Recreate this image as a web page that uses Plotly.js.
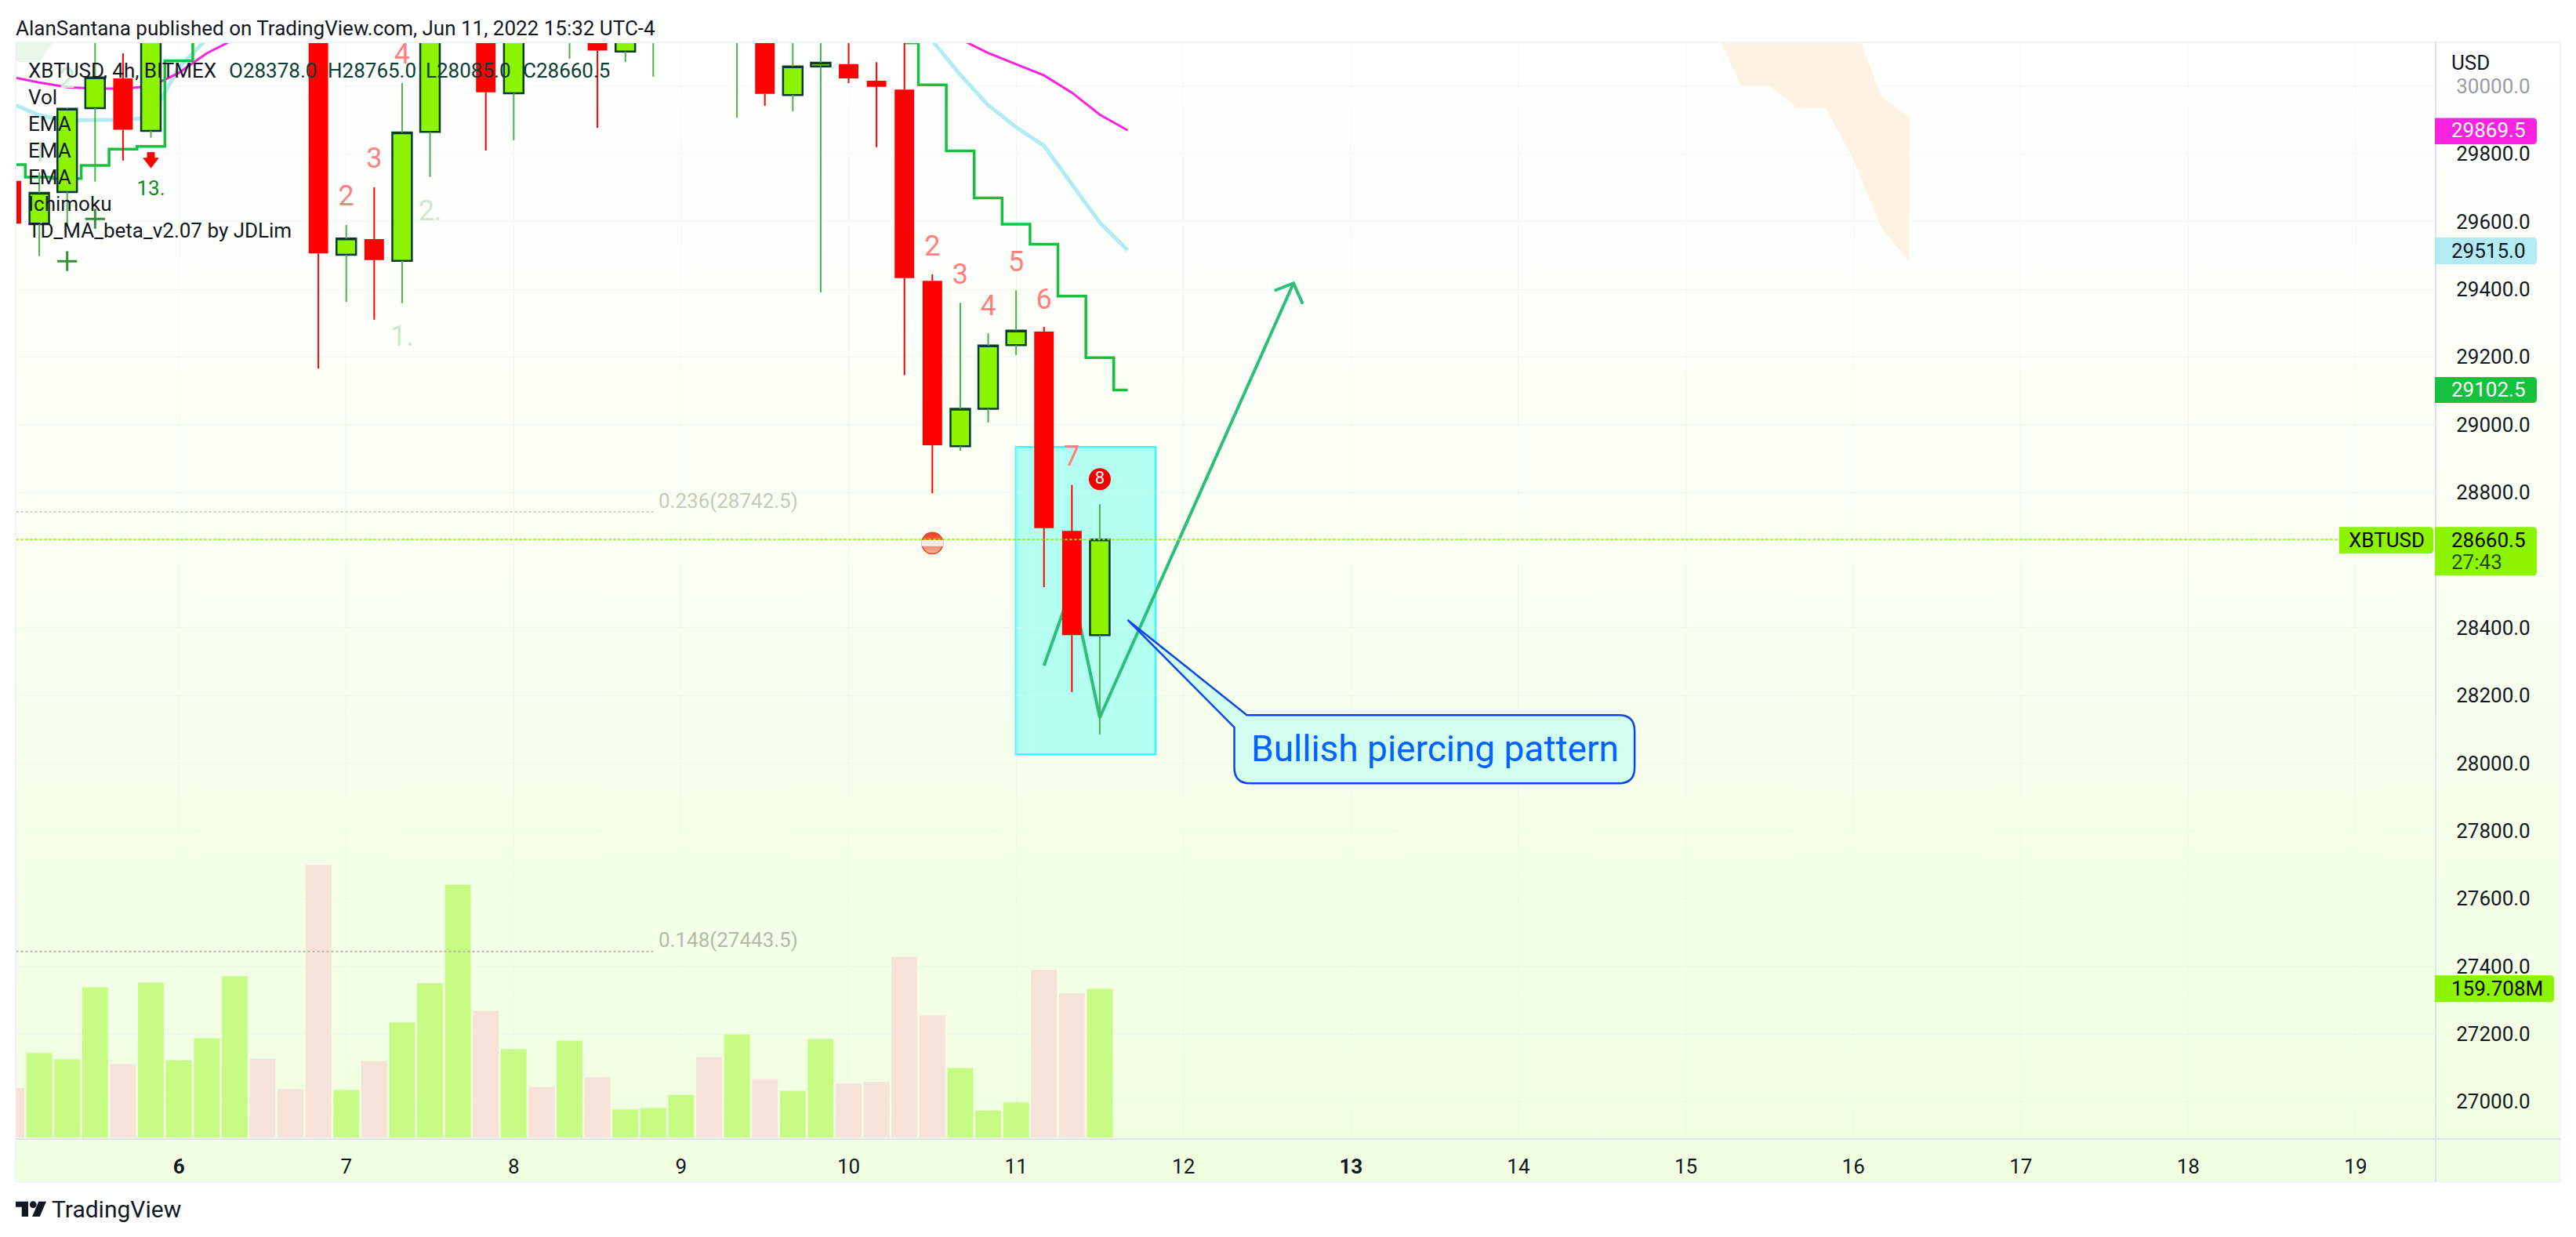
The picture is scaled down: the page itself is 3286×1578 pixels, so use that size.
<!DOCTYPE html>
<html>
<head>
<meta charset="utf-8">
<script src="https://cdn.plot.ly/plotly-3.0.1.min.js"></script>
<style>
  html, body { margin: 0; padding: 0; background: #fff; }
  #bg { position: absolute; left: 20px; top: 54px; width: 3246px; height: 1453px; background: linear-gradient(#ffffff, #f0ffe0); }
  #plot { position: absolute; left: 0; top: 0; width: 3286px; height: 1578px; }
</style>
</head>
<body>
<div id="bg"></div>
<div id="plot"></div>
<script type="text/javascript">
// 4h bars, first one is Jun 5 00:00. bars 6-10, 16, 19, 24, 25 sit above the visible range, their values are guesses
const opens = [29720,29592,29687,29935,30023,29868,30350,30550,30700,31000,30800,30700,29502,29548,29484,29865,30300,30600,29979,30300,30200,30350,30102,30150,30200,30350,30200,30350,29974,30058,30065,30016,29990,29425,28936,29047,29235,29275,28686,28378];
const closes = [29594,29685,29933,30026,29871,30350,30550,30700,31000,30800,30700,29506,29550,29486,29863,30300,30600,29982,30300,30200,30350,30105,30250,30250,30350,30200,30350,29977,30058,30069,30023,29998,29433,28939,29047,29234,29278,28694,28378,28660.5];
const highs = [29760,29745,29937,30180,30097,30400,30620,30800,31150,31100,30850,30750,29590,29701,30009,30400,30700,30650,30400,30400,30450,30400,30300,30300,30400,30400,30400,30400,30180,30250,30200,30071,30135,29444,29360,29270,29397,29289,28822,28765];
const lows = [29560,29498,29590,29718,29780,29848,30300,30500,30650,30700,30650,29166,29363,29310,29359,29732,30200,29810,29840,30150,30081,29877,30071,30028,30150,30150,29907,29942,29926,29391,30009,29820,29146,28797,28923,29006,29206,28520,28210,28085];
const volume = [53.0,90.8,84.0,161.4,78.9,166.5,83.1,106.7,173.3,84.8,51.9,293.0,51.1,82.3,123.7,165.7,271.8,136.2,95.0,54.5,104.1,64.7,30.1,31.8,46.0,86.5,110.9,63.0,50.2,105.8,57.9,59.6,194.3,131.1,74.6,29.2,37.7,180.1,154.9,159.7];

// kijun step line, only the two stretches inside the chart
const kijunLeftIdx = [0,1,2,3,4,5,6,7];
const kijunLeft = [29768,29731,29727,29766,29814,29822,30075,30400];
const kijunRightIdx = [32,33,34,35,36,37,38,39,40];
const kijunRight = [30128,30004,29809,29670,29592,29533,29380,29198,29102.5];

const emaSlowLeftIdx = [0,1,2,3,4,5,6,7,8];
const emaSlowLeft = [30027,30011,29997,29993,29993,30000,30039,30097,30139];
const emaSlowRightIdx = [34,35,36,37,38,39,40];
const emaSlowRight = [30139,30098,30065,30032,29981,29916,29869.5];

const emaFastLeftIdx = [0,1,2,3,4,5,6,7];
const emaFastLeft = [29949,29914,29899,29899,29901,29907,30055,30139];
const emaFastRightIdx = [33,34,35,36,37,38,39,40];
const emaFastRight = [30134,30034,29944,29879,29824,29712,29597,29515];

// ichimoku cloud outlines
const cloudRedIdx = [61,62,63,64,65,66,67,68,68,67,66,61];
const cloudRed = [30172,30000,30000,29936,29936,29784,29581,29485,29907,29969,30192,30500];
const cloudGreenIdx = [0,1,2,2,1,0];
const cloudGreen = [30071,30071,30190,30400,30400,30400];

// TD sequential numbers
const tdRedIdx = [14,13,12,33,34,35,36,37,38];
const tdRed = [30088,29780,29668,29520,29437,29344,29474,29363,28899];
const tdRedText = ['4','3','2','2','3','4','5','6','7'];
const tdGreenIdx = [2,1,15,14];
const tdGreen = [30016,29798,29624,29254];
const tdGreenText = ['2','1','2.','1.'];
const plusIdx = [3,2];
const plusPrice = [29608,29483];

// drawing on top of the chart
const arrowIdx = [37,38,39,45.94,45.26,45.94,46.27];
const arrowPrice = [28288,28520,28135,29418,29396,29418,29357];

const dayTicks = [6,7,8,9,10,11,12,13,14,15,16,17,18,19];
const priceTicks = [30000,29800,29600,29400,29200,29000,28800,28400,28200,28000,27800,27600,27400,27200,27000];

const T0 = Date.UTC(2022, 5, 5);
const H4 = 4 * 3600 * 1000;
const barTime = i => T0 + i * H4;
const idx = volume.map((v, i) => i);
const times = idx.map(barTime);

const RED = '#ff0000', LIME = '#8df400', DARK = '#0b3b2e', INK = '#131722';
const FONT = 'Roboto, sans-serif';

// pixel position on the page -> paper fraction
const L = 20, R = 3107, T = 54, B = 1452.6;
const X = px => (px - L) / (R - L);
const Y = py => (B - py) / (B - T);

const PRICE_RANGE = [26889.7, 30129.5];

// wicks stop at the body, the greens are thinner and lighter than the body border
function wicks(up) {
    const x = [], y = [];
    idx.forEach(i => {
        if ((closes[i] >= opens[i]) !== up) return;
        const top = Math.max(opens[i], closes[i]), bot = Math.min(opens[i], closes[i]);
        x.push(times[i], times[i], null, times[i], times[i], null);
        y.push(highs[i], top, null, bot, lows[i], null);
    });
    return {x, y};
}
const wickUp = wicks(true), wickDown = wicks(false);
const line = (ids, vals, color, width, shape) => ({
    type: 'scatter', mode: 'lines', x: ids.map(barTime), y: vals, yaxis: 'y2',
    line: {color, width, shape: shape || 'linear'}
});
const cloud = (ids, vals, color) => ({
    type: 'scatter', mode: 'lines', x: ids.map(barTime), y: vals, yaxis: 'y2',
    fill: 'toself', fillcolor: color, line: {width: 0}
});
const numbers = (ids, vals, labels, color, size) => ({
    type: 'scatter', mode: 'text', x: ids.map(barTime), y: vals, yaxis: 'y2', text: labels,
    textposition: 'middle center', textfont: {family: FONT, size, color}
});

const traces = [
    {type: 'bar', x: times, y: volume, width: H4 * 0.925,
     marker: {color: idx.map(i => closes[i] >= opens[i] ? '#c8fb84' : '#f6e2d8'), line: {width: 0}}},
    cloud(cloudRedIdx, cloudRed, '#fdf2e3'),
    cloud(cloudGreenIdx, cloudGreen, '#eaf5ea'),
    line(emaFastLeftIdx, emaFastLeft, '#b2ebf2', 5),
    line(emaFastRightIdx, emaFastRight, '#b2ebf2', 5),
    line(emaSlowLeftIdx, emaSlowLeft, '#f723df', 3),
    line(emaSlowRightIdx, emaSlowRight, '#f723df', 3),
    line(kijunLeftIdx, kijunLeft, '#17c140', 3.5, 'hvh'),
    line(kijunRightIdx, kijunRight, '#17c140', 3.5, 'hvh'),
    line(arrowIdx, arrowPrice, '#2dbe7e', 4),
    numbers(tdRedIdx, tdRed, tdRedText, '#ff8080', 36),
    numbers(tdGreenIdx, tdGreen, tdGreenText, '#cde8ce', 36),
    numbers([5], [29694], ['13.'], '#0a8a20', 26),
    {type: 'scatter', mode: 'markers', x: plusIdx.map(barTime), y: plusPrice, yaxis: 'y2',
     marker: {symbol: 'cross-thin', size: 18, line: {width: 3, color: '#388e3c'}}},
    // red arrow of the 13 count: shaft plus head
    {type: 'scatter', mode: 'lines', x: [barTime(5), barTime(5)], y: [29805, 29783], yaxis: 'y2', line: {color: RED, width: 10}},
    {type: 'scatter', mode: 'markers', x: [barTime(5)], y: [29778], yaxis: 'y2',
     marker: {symbol: 'triangle-down', size: 18, color: RED, line: {width: 0}}},
    // candles on their own overlay so they cover the lines
    {type: 'candlestick', x: times, open: opens, close: closes,
     high: idx.map(i => Math.max(opens[i], closes[i])), low: idx.map(i => Math.min(opens[i], closes[i])),
     yaxis: 'y3', whiskerwidth: 0,
     increasing: {fillcolor: LIME, line: {color: DARK, width: 2.5}},
     decreasing: {fillcolor: RED, line: {color: RED, width: 0}}},
    {type: 'scatter', mode: 'lines', x: wickUp.x, y: wickUp.y, yaxis: 'y3', line: {color: '#4caf50', width: 2}},
    {type: 'scatter', mode: 'lines', x: wickDown.x, y: wickDown.y, yaxis: 'y3', line: {color: RED, width: 2}},
    {type: 'scatter', mode: 'markers+text', x: [barTime(39)], y: [28839], yaxis: 'y3', text: ['8'],
     textposition: 'middle center', textfont: {family: FONT, size: 22, color: '#fff'},
     marker: {size: 28, color: '#f00000'}},
    {type: 'scatter', mode: 'markers', x: [barTime(33)], y: [28650], yaxis: 'y3',
     marker: {size: 27, color: '#ee3a1c', gradient: {type: 'vertical', color: '#ffb8a0'}, line: {width: 1.5, color: '#e8452c'}}},
    {type: 'scatter', mode: 'markers', x: [barTime(33)], y: [28650], yaxis: 'y3',
     marker: {symbol: 'line-ew', size: 20, line: {width: 8, color: '#f5ecea'}}}
];

// right side price tags
function tag(x0, y0, x1, y1, color) {
    const r = 5, w = x1 - x0, h = y1 - y0;
    return {type: 'path', xref: 'paper', yref: 'paper', xsizemode: 'pixel', ysizemode: 'pixel',
        xanchor: X(x0), yanchor: Y(y0), layer: 'above', fillcolor: color, line: {width: 0},
        path: `M 0 0 L ${w - r} 0 Q ${w} 0 ${w} ${-r} L ${w} ${-h + r} Q ${w} ${-h} ${w - r} ${-h} L 0 ${-h} Z`};
}
const hline = (x0, x1, price, color) => ({type: 'line', xref: 'x', yref: 'y2', layer: 'above',
    x0, x1, y0: price, y1: price, line: {color, width: 2, dash: '3px,3px'}});
const rule = (x0, y0, x1, y1, color) => ({type: 'line', xref: 'paper', yref: 'paper', layer: 'above',
    x0: X(x0), y0: Y(y0), x1: X(x1), y1: Y(y1), line: {color, width: 2}});

const shapes = [
    {type: 'rect', xref: 'x', yref: 'y2', layer: 'below', x0: barTime(36), x1: barTime(41), y0: 28025.5, y1: 28934,
     fillcolor: '#b3fff0', line: {color: '#33ffff', width: 2.5}},
    hline(T0, barTime(23), 28742.5, '#c9d2bd'),
    hline(T0, barTime(23), 27443.5, '#b2bba8'),
    hline(T0, Date.UTC(2022, 5, 18, 21, 33), 28660.5, LIME),
    // callout
    {type: 'path', xref: 'x', yref: 'y2', xsizemode: 'pixel', ysizemode: 'pixel', layer: 'above',
     xanchor: barTime(40), yanchor: 28423, fillcolor: '#d2ffee', line: {color: '#0b45ef', width: 2.5},
     path: 'M 0 0 L 152 -121.3 L 626.6 -121.3 Q 646.6 -121.3 646.6 -141.3 L 646.6 -188.3 Q 646.6 -208.3 626.6 -208.3 L 156 -208.3 Q 136 -208.3 136 -188.3 L 136 -137 Z'},
    // frame
    rule(20, 54, 3266, 54, '#f0f3fa'), rule(20, 1507, 3266, 1507, '#f0f3fa'),
    rule(20, 54, 20, 1507, '#f0f3fa'), rule(3266, 54, 3266, 1507, '#f0f3fa'),
    rule(3107, 54, 3107, 1507, '#e0e3eb'), rule(20, 1452.6, 3266, 1452.6, '#e0e3eb'),
    tag(3106, 150.5, 3236, 184, '#f723df'),
    tag(3106, 303, 3236, 337, '#b2ebf2'),
    tag(3106, 481, 3236, 514, '#17c140'),
    tag(3106, 672, 3236, 734, LIME),
    tag(2984, 672, 3104, 706, LIME),
    tag(3106, 1244, 3258, 1278, LIME),
    // logo
    {type: 'path', xref: 'paper', yref: 'paper', xsizemode: 'pixel', ysizemode: 'pixel', xanchor: X(20), yanchor: Y(1532.3),
     layer: 'above', fillcolor: INK, line: {width: 0},
     path: 'M 0 0 L 16 0 L 16 -19.4 L 7.7 -19.4 L 7.7 -7 L 0 -7 Z M 29.3 0 L 39 0 L 30.7 -19.4 L 21 -19.4 Z M 17.9 -4 C 17.9 -1.6 19.9 0.4 22.3 0.4 C 24.7 0.4 26.7 -1.6 26.7 -4 C 26.7 -6.4 24.7 -8.4 22.3 -8.4 C 19.9 -8.4 17.9 -6.4 17.9 -4 Z'}
];

function note(text, px, py, size, color, anchor) {
    return {text, xref: 'paper', yref: 'paper', x: X(px), y: Y(py), xanchor: anchor || 'left', yanchor: 'middle',
        showarrow: false, borderpad: 0, borderwidth: 0, font: {family: FONT, size, color}};
}
const GREENTEXT = '#0a3d33';
const annotations = [
    note('AlanSantana published on TradingView.com, Jun 11, 2022 15:32 UTC-4', 20, 36, 26, INK),
    note('XBTUSD, 4h, BITMEX', 36, 90, 26, INK),
    note('O28378.0', 292, 90, 26, GREENTEXT),
    note('H28765.0', 418, 90, 26, GREENTEXT),
    note('L28085.0', 543, 90, 26, GREENTEXT),
    note('C28660.5', 667, 90, 26, GREENTEXT),
    note('Vol', 36, 124, 26, INK),
    note('EMA', 36, 158, 26, INK),
    note('EMA', 36, 192, 26, INK),
    note('EMA', 36, 226, 26, INK),
    note('Ichimoku', 36, 260, 26, INK),
    note('TD_MA_beta_v2.07 by JDLim', 36, 294, 26, INK),
    note('0.236(28742.5)', 840, 639, 26, '#c4cdb8'),
    note('0.148(27443.5)', 840, 1199, 26, '#b2bba8'),
    note('USD', 3127, 80, 26, INK),
    note('29869.5', 3127, 166, 26, '#ffffff'),
    note('29515.0', 3127, 320, 26, INK),
    note('29102.5', 3127, 497, 26, '#ffffff'),
    note('28660.5', 3127, 689, 26, '#000000'),
    note('27:43', 3127, 717, 26, '#2a4a00'),
    note('XBTUSD', 2996, 689, 26, '#000000'),
    note('159.708M', 3127, 1261, 26, '#000000'),
    note('Bullish piercing pattern', 1596, 955, 46, '#0062ff'),
    note('TradingView', 66, 1542, 30, INK)
];

const layout = {
    width: 3286, height: 1578, autosize: false, showlegend: false, hovermode: false,
    paper_bgcolor: 'rgba(0,0,0,0)', plot_bgcolor: 'rgba(0,0,0,0)',
    margin: {l: L, r: 3286 - R, t: T, b: 1578 - B, pad: 0},
    font: {family: FONT, size: 26, color: INK},
    boxmode: 'group', boxgap: 0.3, boxgroupgap: 0,
    xaxis: {type: 'date', range: [Date.UTC(2022, 5, 5, 0, 37), Date.UTC(2022, 5, 19, 11, 28)],
        rangeslider: {visible: false}, tickmode: 'array',
        tickvals: dayTicks.map(d => Date.UTC(2022, 5, d)),
        ticktext: dayTicks.map(d => (d === 6 || d === 13) ? '<b>' + d + '</b>' : String(d)),
        ticks: 'outside', ticklen: 12, tickcolor: 'rgba(0,0,0,0)', showline: false, zeroline: false,
        gridcolor: 'rgba(225,243,238,0.45)', tickfont: {family: FONT, size: 26, color: INK}},
    // volume pane is the base axis, price overlays it
    yaxis: {range: [-1.6, 1176.7], visible: false, showgrid: false, zeroline: false},
    yaxis2: {overlaying: 'y', side: 'right', range: PRICE_RANGE, tickmode: 'array', tickvals: priceTicks,
        ticktext: priceTicks.map(p => p === 30000 ? '<span style="color:#9a9ca3">30000.0</span>' : p.toFixed(1)),
        ticks: 'outside', ticklen: 20, tickcolor: 'rgba(0,0,0,0)', showline: false, zeroline: false,
        gridcolor: 'rgba(225,243,238,0.45)', tickfont: {family: FONT, size: 26, color: INK}},
    yaxis3: {overlaying: 'y', range: PRICE_RANGE, visible: false, showgrid: false, zeroline: false},
    shapes, annotations
};

Plotly.newPlot('plot', traces, layout, {staticPlot: true, displayModeBar: false});
</script>
</body>
</html>
